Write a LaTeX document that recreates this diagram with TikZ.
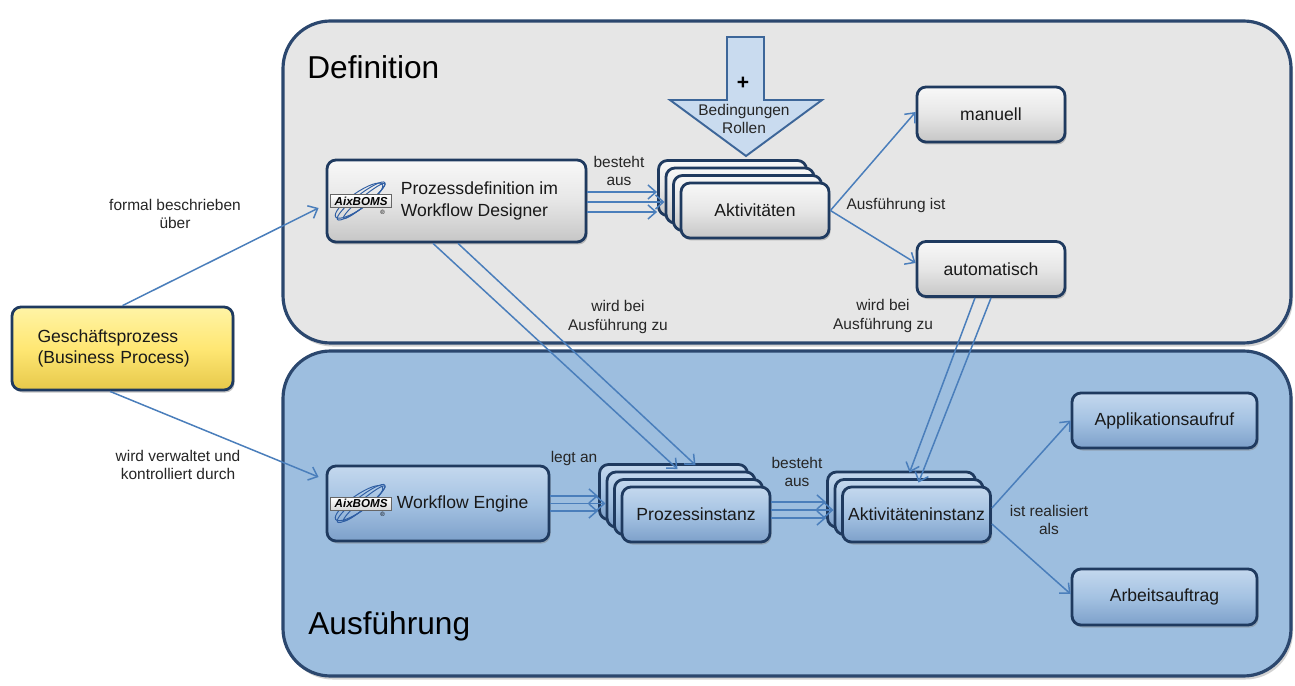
\documentclass[tikz,border=0pt]{standalone}
\usepackage{fontspec}
\setmainfont{Liberation Sans}
\usepackage{tikz}
\usepackage{xcolor}
\usetikzlibrary{shadows}
\usetikzlibrary{arrows.meta}

\definecolor{linkblue}{HTML}{4A7EBB}
\definecolor{boxline}{HTML}{1F3A5F}
\definecolor{panelline}{HTML}{2B476E}
\definecolor{defgrey}{HTML}{E6E6E6}
\definecolor{ausblue}{HTML}{9DBEDF}
\definecolor{greytop}{HTML}{F8F8F8}
\definecolor{greymid}{HTML}{E6E6E6}
\definecolor{greybot}{HTML}{C6C6C6}
\definecolor{bluetop}{HTML}{C4D8EE}
\definecolor{bluemid}{HTML}{A4C2E2}
\definecolor{bluebot}{HTML}{7DA0CA}
\definecolor{yeltop}{HTML}{FFF4A6}
\definecolor{yelmid}{HTML}{FFE773}
\definecolor{yelbot}{HTML}{E6C84A}
\definecolor{arrowfill}{HTML}{C9DBEF}
\definecolor{arrowline}{HTML}{3D6699}
\definecolor{logoblue}{HTML}{2F5EA3}

\tikzset{
    panel/.style={draw=panelline, line width=1.8pt, rounded corners=0.95cm,
        drop shadow={shadow xshift=0.04cm, shadow yshift=-0.07cm, opacity=0.35}},
    title/.style={anchor=base west, inner sep=0pt, font=\fontsize{18}{20}\selectfont},
    box/.style={draw=boxline, line width=1.6pt, rounded corners=0.18cm, inner xsep=2pt,
        align=center, text=black!90, font=\fontsize{10}{12}\selectfont, minimum height=1.1cm,
        drop shadow={shadow xshift=0.03cm, shadow yshift=-0.05cm, opacity=0.45}},
    greybox/.style={box, top color=greytop, bottom color=greybot, middle color=greymid},
    bluebox/.style={box, top color=bluetop, bottom color=bluebot, middle color=bluemid},
    yellowbox/.style={box, top color=yeltop, bottom color=yelbot, middle color=yelmid},
    card/.style={minimum width=2.96cm},
    boxtext/.style={anchor=west, align=left, text=black!90, font=\fontsize{10}{13}\selectfont},
    lbl/.style={align=center, text=black!85, font=\fontsize{8.8}{10.6}\selectfont},
    link/.style={draw=linkblue, line width=0.85pt, -{Straight Barb[length=1.6mm,width=2.8mm]}},
    bigarrow/.style={draw=arrowline, fill=arrowfill, line width=1.1pt, line join=miter},
    aixlogo/.pic={
        \draw[logoblue, line width=0.55pt, rotate=38] (0,0) ellipse (0.6cm and 0.12cm);
        \draw[logoblue, line width=0.55pt, rotate=40] (0.05,-0.04) ellipse (0.54cm and 0.08cm);
        \draw[logoblue, line width=0.55pt, rotate=35] (-0.03,0.03) ellipse (0.57cm and 0.16cm);
        \node[draw=black!60, top color=white, bottom color=black!15, line width=0.4pt, inner xsep=0.5pt,
            inner ysep=1.2pt, minimum width=1.22cm, font=\fontsize{6.6}{6.6}\selectfont\bfseries\itshape]
            (-label) at (0,0) {AixBOMS};
        \node[inner sep=0pt, font=\fontsize{3.5}{4}\selectfont] (-reg) at (0.43,-0.22) {®};
    }
}

\begin{document}
\begin{tikzpicture}
    \useasboundingbox (0,0) rectangle (25.9,-13.72);
    \fill[white] (0,0) rectangle (25.9,-13.72);
    \draw[panel, fill=defgrey] (5.66,-0.42) rectangle (25.82,-6.86);
    \draw[panel, fill=ausblue] (5.66,-7.02) rectangle (25.82,-13.52);
    \node[title] (deftitle) at (6.14,-1.58) {Definition};
    \node[title] (austitle) at (6.16,-12.68) {Ausführung};

    \draw[bigarrow] (14.54,-0.74) -- (15.28,-0.74) -- (15.28,-2.0) -- (16.44,-2.0) -- (14.92,-3.12) -- (13.4,-2.0) -- (14.54,-2.0) -- cycle;
    \node[font=\fontsize{12}{12}\selectfont\bfseries] (plus) at (14.86,-1.66) {+};
    \node[lbl] (bedingungen) at (14.88,-2.38) {Bedingungen\\Rollen};

    \node[yellowbox, minimum width=4.42cm, minimum height=1.66cm, text width=3.4cm, align=left] (gp) at (2.45,-6.97) {Geschäftsprozess\\(Business Process)};

    \node[greybox, minimum width=5.18cm, minimum height=1.64cm] (pd) at (9.13,-4.02) {};
    \pic (pdlogo) at ([xshift=0.71cm]pd.west) {aixlogo};
    \node[boxtext] (pdtext) at ([xshift=1.38cm]pd.west) {Prozessdefinition im\\Workflow Designer};

    \node[greybox, card] (akt1) at (14.65,-3.76) {};
    \node[greybox, card] (akt2) at (14.80,-3.91) {};
    \node[greybox, card] (akt3) at (14.95,-4.06) {};
    \node[greybox, card] (akt4) at (15.10,-4.21) {Aktivitäten};
    \node[greybox, card] (man) at (19.82,-2.29) {manuell};
    \node[greybox, card] (auto) at (19.82,-5.38) {automatisch};

    \node[bluebox, minimum width=4.44cm, minimum height=1.5cm] (we) at (8.76,-10.07) {};
    \pic (welogo) at ([xshift=0.71cm]we.west) {aixlogo};
    \node[boxtext] (wetext) at ([xshift=1.30cm]we.west) {Workflow Engine};

    \node[bluebox, card] (pi1) at (13.47,-9.84) {};
    \node[bluebox, card] (pi2) at (13.62,-9.99) {};
    \node[bluebox, card] (pi3) at (13.77,-10.14) {};
    \node[bluebox, card] (pi4) at (13.92,-10.29) {Prozessinstanz};

    \node[bluebox, card] (ai1) at (18.03,-9.99) {};
    \node[bluebox, card] (ai2) at (18.18,-10.14) {};
    \node[bluebox, card] (ai3) at (18.33,-10.29) {Aktivitäteninstanz};

    \node[bluebox, minimum width=3.7cm] (appl) at (23.29,-8.41) {Applikationsaufruf};
    \node[bluebox, minimum width=3.7cm, minimum height=1.12cm] (arb) at (23.29,-11.94) {Arbeitsauftrag};

    \draw[link] (gp.north) -- ([xshift=-0.14cm,yshift=-0.14cm]pd.west);
    \draw[link] ([xshift=-0.25cm]gp.south) -- ([xshift=-0.14cm,yshift=0.53cm]we.west);
    \node[lbl] (lblformal) at (3.5,-4.28) {formal beschrieben\\über};
    \node[lbl] (lblverwaltet) at (3.56,-9.3) {wird verwaltet und\\kontrolliert durch};

    \draw[link] ([yshift=0.18cm]pd.east) -- ([yshift=0.18cm]pd.east -| akt1.west);
    \draw[link] ([yshift=-0.02cm]pd.east) -- ([yshift=-0.02cm]pd.east -| akt2.west);
    \draw[link] ([yshift=-0.22cm]pd.east) -- ([yshift=-0.22cm]pd.east -| akt1.west);
    \node[lbl] (lblbesteht) at (12.38,-3.42) {besteht\\aus};

    \draw[link] (akt4.east) -- ([yshift=0.05cm]man.west);
    \draw[link] (akt4.east) -- ([yshift=0.12cm]auto.west);
    \node[lbl] (lblausf) at (17.92,-4.12) {Ausführung ist};

    \draw[link] ([xshift=-0.47cm]pd.south) -- ([xshift=0.08cm,yshift=-0.12cm]pi1.north);
    \draw[link] ([xshift=0.03cm]pd.south) -- ([xshift=0.44cm,yshift=-0.04cm]pi1.north);
    \node[lbl] (lblwird) at (12.36,-6.34) {wird bei\\Ausführung zu};

    \draw[link] ([xshift=-0.32cm]auto.south) -- ([xshift=0.16cm,yshift=-0.04cm]ai1.north);
    \draw[link] (auto.south) -- ([xshift=0.34cm,yshift=-0.24cm]ai1.north);
    \node[lbl] (lblwirdauto) at (17.66,-6.32) {wird bei\\Ausführung zu};

    \draw[link] ([yshift=0.15cm]we.east) -- ([yshift=0.15cm]we.east -| pi1.west);
    \draw[link] (we.east) -- (we.east -| pi2.west);
    \draw[link] ([yshift=-0.15cm]we.east) -- ([yshift=-0.15cm]we.east -| pi1.west);
    \node[lbl] (lbllegt) at (11.48,-9.18) {legt an};

    \draw[link] ([yshift=0.25cm]pi4.east) -- ([yshift=0.25cm]pi4.east -| ai1.west);
    \draw[link] ([yshift=0.09cm]pi4.east) -- ([yshift=0.09cm]pi4.east -| ai2.west);
    \draw[link] ([yshift=-0.07cm]pi4.east) -- ([yshift=-0.07cm]pi4.east -| ai1.west);
    \node[lbl] (lblbestehtpi) at (15.94,-9.44) {besteht\\aus};

    \draw[link] ([yshift=0.13cm]ai3.east) -- (appl.west);
    \draw[link] ([yshift=-0.19cm]ai3.east) -- ([yshift=0.06cm]arb.west);
    \node[lbl] (lblreal) at (20.98,-10.4) {ist realisiert\\als};
\end{tikzpicture}
\end{document}
